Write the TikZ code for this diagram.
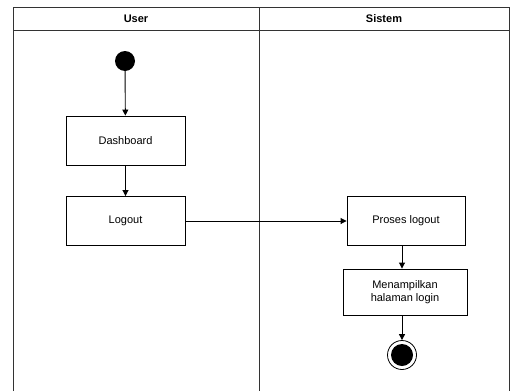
\documentclass[tikz,border=0pt]{standalone}
\usepackage{fontspec}
\setmainfont{Liberation Sans}
\usetikzlibrary{arrows.meta}
\begin{document}
\begin{tikzpicture}[x=1pt,y=-1pt,
  lane/.style={draw=black!80,line width=0.9pt},
  act/.style={draw=black,line width=0.9pt,fill=white,minimum width=119pt,minimum height=49pt,inner sep=2pt,font=\fontsize{11}{13.5}\selectfont,align=center},
  flow/.style={draw=black,line width=0.9pt,-{Triangle[length=6pt,width=6pt]}},
  hdr/.style={font=\bfseries\fontsize{11}{12}\selectfont}]
  \useasboundingbox (0,0) rectangle (511,391);
  % swimlane frame
  \draw[lane] (13,391) -- (13,7) -- (509.5,7) -- (509.5,391);
  \draw[lane] (13,30) -- (509.5,30);
  \draw[lane] (259,7) -- (259,391);
  \node[hdr] (huser) at (136,19) {User};
  \node[hdr] (hsys) at (384,19) {Sistem};
  % user lane
  \node[circle,fill=black,minimum size=20pt,inner sep=0pt] (start) at (125,61) {};
  \node[act] (dash) at (125.5,140.5) {Dashboard};
  \node[act] (logout) at (125.5,221) {Logout};
  % system lane
  \node[act,minimum width=118pt] (proses) at (406,221) {Proses logout};
  \node[act,minimum width=124pt,minimum height=46pt] (tampil) at (405,292) {Menampilkan\\halaman login};
  \node[circle,draw=black,line width=0.8pt,minimum size=29pt,inner sep=0pt] (end) at (402,355) {};
  \node[circle,fill=black,minimum size=22pt,inner sep=0pt] at (end) {};
  % flows
  \draw[flow] (start) -- (dash);
  \draw[flow] (dash) -- (logout);
  \draw[flow] (logout) -- (proses);
  \draw[flow] (proses.south -| tampil.north) ++(-3,0) coordinate (p1) -- (p1 |- tampil.north);
  \draw[flow] (tampil.south -| end.north) -- (end.north);
\end{tikzpicture}
\end{document}
